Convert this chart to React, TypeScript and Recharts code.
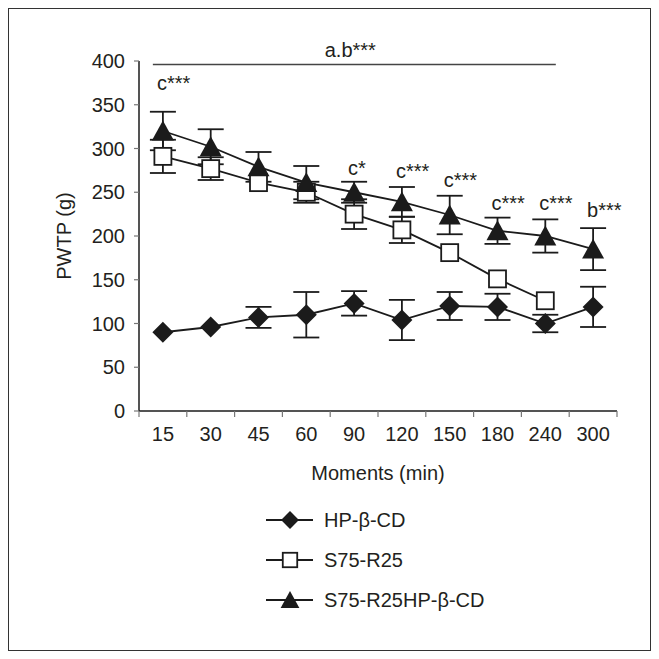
import React from 'react';
import {
  ComposedChart,
  Line,
  XAxis,
  YAxis,
  ErrorBar,
  Scatter,
  ReferenceLine,
  Legend,
} from 'recharts';

// ---------- data ----------
const moments = ['15', '30', '45', '60', '90', '120', '150', '180', '240', '300'];
const seriesNames = ['HP-β-CD', 'S75-R25', 'S75-R25HP-β-CD'];

const hpValues = [90, 96, 107, 110, 123, 104, 120, 119, 100, 119];
const hpErrors = [0, 0, 12, 26, 14, 23, 16, 15, 10, 23];

const sValues: (number | null)[] = [291, 277, 261, 250, 225, 207, 181, 151, 126, null];
const sErrors: (number | null)[] = [19, 13, 0, 12, 17, 15, 0, 0, 0, null];

const tValues = [320, 302, 279, 261, 250, 239, 224, 206, 200, 185];
const tErrors = [22, 20, 17, 19, 12, 17, 22, 15, 19, 24];

const yTicks = [0, 50, 100, 150, 200, 250, 300, 350, 400];

const annotationIndex = [0, 4, 5, 6, 7, 8, 9];
const annotationTexts = ['c***', 'c*', 'c***', 'c***', 'c***', 'c***', 'b***'];
const annotationLevels = [367, 270, 266, 256, 230, 230, 222];

const bracketText = 'a.b***';
const bracketLevel = 396;
const bracketFrom = 0.29;
const bracketTo = 8.72;

// ---------- styling ----------
const FONT = '"Liberation Sans", Arial, Helvetica, sans-serif';
const INK = '#1b1b1b';
const TEXT = '#231f20';
const PLOT_W = 478;
const HALF_BAND = PLOT_W / (moments.length * 2);

const data = moments.map((m, i) => ({
  pos: i + 0.5,
  moment: m,
  hp: hpValues[i],
  hpErr: hpErrors[i],
  s: sValues[i],
  sErr: sErrors[i],
  t: tValues[i],
  tErr: tErrors[i],
}));

const annotationData = annotationIndex.map((idx, k) => ({
  pos: idx + 0.5,
  y: annotationLevels[k],
  text: annotationTexts[k],
}));

const xTickPositions = [...moments.map((_, i) => i), moments.length];

// ---------- markers ----------
function diamond(cx: number, cy: number, r: number) {
  return (
    <polygon
      points={`${cx},${cy - r} ${cx + r},${cy} ${cx},${cy + r} ${cx - r},${cy}`}
      fill={INK}
    />
  );
}
function square(cx: number, cy: number, h: number) {
  return (
    <rect x={cx - h} y={cy - h} width={2 * h} height={2 * h} fill="#fff" stroke={INK} strokeWidth={1.8} />
  );
}
function triangle(cx: number, cy: number, r: number) {
  return (
    <polygon
      points={`${cx},${cy - r} ${cx + r * 1.05},${cy + r * 0.9} ${cx - r * 1.05},${cy + r * 0.9}`}
      fill={INK}
    />
  );
}

const markerFns = [
  (cx: number, cy: number, k: number) => diamond(cx, cy, 10.5 * k),
  (cx: number, cy: number, k: number) => square(cx, cy, 8.5 * k),
  (cx: number, cy: number, k: number) => triangle(cx, cy, 10.5 * k),
];

const makeDot = (which: number) => (props: any) => {
  const { cx, cy, index } = props;
  if (cx == null || cy == null || Number.isNaN(cx) || Number.isNaN(cy)) {
    return <g key={`d-${which}-${index}`} />;
  }
  return <g key={`d-${which}-${index}`}>{markerFns[which](cx, cy, 1)}</g>;
};

// ---------- axis pieces ----------
const XTick = (props: any) => {
  const { x, y, payload } = props;
  const i = payload.value;
  if (i >= moments.length) return <g />;
  return (
    <text x={x + HALF_BAND} y={y} dy={22} textAnchor="middle" fontSize={20} fontFamily={FONT} fill={TEXT}>
      {moments[i]}
    </text>
  );
};

const renderXLabel = (props: any) => {
  const vb = props.viewBox || {};
  return (
    <text x={vb.x + vb.width / 2} y={vb.y + 69} textAnchor="middle" fontSize={20} fontFamily={FONT} fill={TEXT}>
      Moments (min)
    </text>
  );
};

const renderYLabel = (props: any) => {
  const vb = props.viewBox || {};
  const x = vb.x + 25;
  const y = vb.y + vb.height / 2;
  return (
    <text
      x={x}
      y={y}
      transform={`rotate(-90, ${x}, ${y})`}
      textAnchor="middle"
      dominantBaseline="central"
      fontSize={20}
      fontFamily={FONT}
      fill={TEXT}
    >
      PWTP (g)
    </text>
  );
};

const renderBracketLabel = (props: any) => {
  const vb = props.viewBox || {};
  return (
    <text x={vb.x + (vb.width || 0) / 2 - 4} y={vb.y - 8} textAnchor="middle" fontSize={20} fontFamily={FONT} fill={TEXT}>
      {bracketText}
    </text>
  );
};

const AnnotationShape = (props: any) => {
  const { cx, cy, payload } = props;
  return (
    <text x={cx - 6} y={cy} fontSize={20} fontFamily={FONT} fill={TEXT}>
      {payload.text}
    </text>
  );
};

const renderLegend = () => (
  <div style={{ fontFamily: FONT }}>
    {seriesNames.map((name, k) => (
      <div key={name} style={{ display: 'flex', alignItems: 'center', height: 40 }}>
        <svg width={48} height={40} style={{ display: 'block' }}>
          <line x1={0} y1={20} x2={47} y2={20} stroke={INK} strokeWidth={1.8} />
          {markerFns[k](24, 20, 0.85)}
        </svg>
        <span style={{ marginLeft: 10, fontSize: 20, color: TEXT, lineHeight: '40px' }}>{name}</span>
      </div>
    ))}
  </div>
);

export default function App() {
  return (
    <div
      style={{
        width: 643,
        height: 643,
        boxSizing: 'border-box',
        border: '1px solid #333',
        position: 'relative',
        background: '#fff',
      }}
    >
      <ComposedChart
        width={641}
        height={641}
        data={data}
        margin={{ top: 52, right: 33, bottom: 159, left: 30 }}
      >
        <XAxis
          type="number"
          dataKey="pos"
          domain={[0, moments.length]}
          ticks={xTickPositions}
          interval={0}
          height={80}
          tickSize={6}
          tick={XTick}
          axisLine={{ stroke: INK, strokeWidth: 1.5 }}
          tickLine={{ stroke: '#777', strokeWidth: 1.2 }}
          label={{ content: renderXLabel } as any}
        />
        <YAxis
          type="number"
          domain={[0, 400]}
          ticks={yTicks}
          interval={0}
          width={100}
          tickSize={5}
          tickMargin={9}
          axisLine={{ stroke: INK, strokeWidth: 1.5 }}
          tickLine={{ stroke: '#777', strokeWidth: 1.2 }}
          tick={{ fill: TEXT, fontSize: 20, fontFamily: FONT }}
          label={{ content: renderYLabel } as any}
        />
        <Line
          dataKey="hp"
          name={seriesNames[0]}
          stroke={INK}
          strokeWidth={1.8}
          dot={makeDot(0)}
          activeDot={false}
          isAnimationActive={false}
        >
          <ErrorBar dataKey="hpErr" width={13} stroke={INK} strokeWidth={1.8} direction="y" />
        </Line>
        <Line
          dataKey="s"
          name={seriesNames[1]}
          stroke={INK}
          strokeWidth={1.8}
          dot={makeDot(1)}
          activeDot={false}
          isAnimationActive={false}
        >
          <ErrorBar dataKey="sErr" width={13} stroke={INK} strokeWidth={1.8} direction="y" />
        </Line>
        <Line
          dataKey="t"
          name={seriesNames[2]}
          stroke={INK}
          strokeWidth={1.8}
          dot={makeDot(2)}
          activeDot={false}
          isAnimationActive={false}
        >
          <ErrorBar dataKey="tErr" width={13} stroke={INK} strokeWidth={1.8} direction="y" />
        </Line>
        <Scatter
          data={annotationData}
          dataKey="y"
          shape={AnnotationShape}
          legendType="none"
          isAnimationActive={false}
        />
        <ReferenceLine
          segment={[
            { x: bracketFrom, y: bracketLevel },
            { x: bracketTo, y: bracketLevel },
          ]}
          stroke="#444"
          strokeWidth={1.5}
          label={renderBracketLabel as any}
        />
        <Legend
          layout="vertical"
          align="center"
          verticalAlign="middle"
          wrapperStyle={{ left: 257, top: 491, width: 340, height: 120 }}
          content={renderLegend}
        />
      </ComposedChart>
    </div>
  );
}
